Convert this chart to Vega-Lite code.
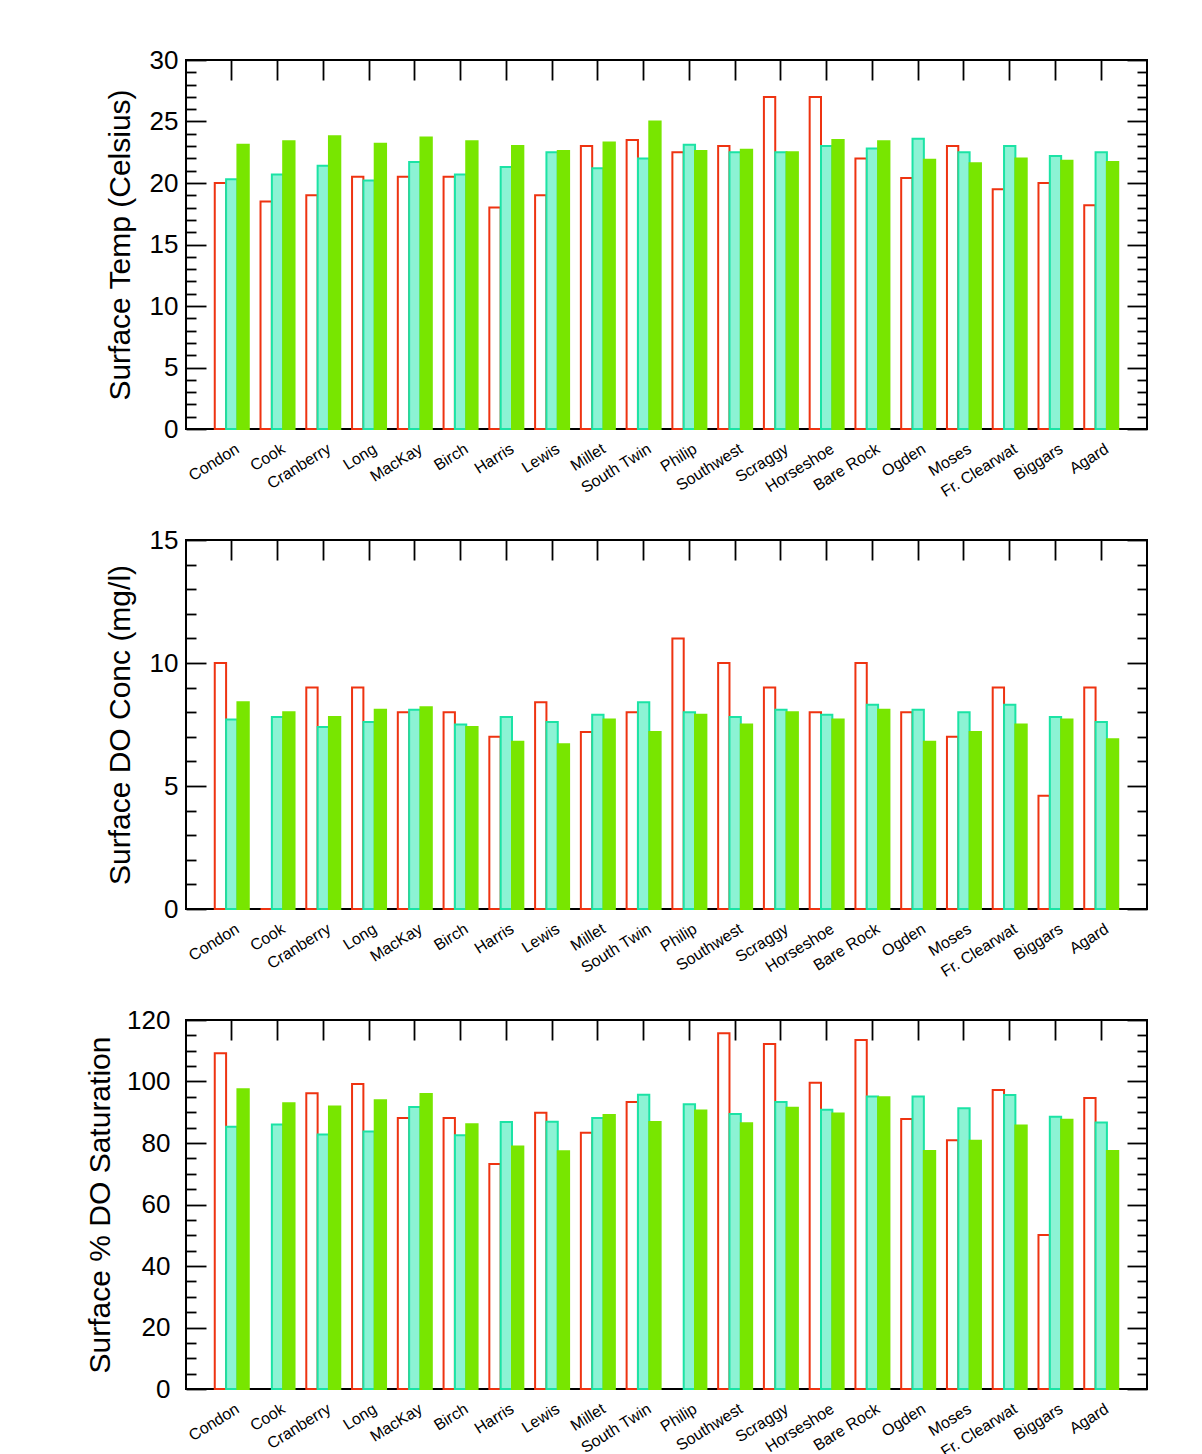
{
  "$schema": "https://vega.github.io/schema/vega-lite/v6.json",
  "autosize": {"type": "pad"},
  "padding": {"left": 84, "top": 46, "right": 0, "bottom": 0},
  "background": "white",
  "bounds": "flush",
  "spacing": 111,
  "datasets": {
    "lakes": [
      {"lake": "Condon", "series": "s1", "temp": 20.0, "do": 10.0, "sat": 109.2},
      {"lake": "Condon", "series": "s2", "temp": 20.3, "do": 7.7, "sat": 85.3},
      {"lake": "Condon", "series": "s3", "temp": 23.1, "do": 8.4, "sat": 97.5},
      {"lake": "Cook", "series": "s1", "temp": 18.5, "do": 0, "sat": null},
      {"lake": "Cook", "series": "s2", "temp": 20.7, "do": 7.8, "sat": 86.0},
      {"lake": "Cook", "series": "s3", "temp": 23.4, "do": 8.0, "sat": 92.9},
      {"lake": "Cranberry", "series": "s1", "temp": 19.0, "do": 9.0, "sat": 96.2},
      {"lake": "Cranberry", "series": "s2", "temp": 21.4, "do": 7.4, "sat": 82.8},
      {"lake": "Cranberry", "series": "s3", "temp": 23.8, "do": 7.8, "sat": 91.9},
      {"lake": "Long", "series": "s1", "temp": 20.5, "do": 9.0, "sat": 99.2},
      {"lake": "Long", "series": "s2", "temp": 20.2, "do": 7.6, "sat": 83.7},
      {"lake": "Long", "series": "s3", "temp": 23.2, "do": 8.1, "sat": 93.9},
      {"lake": "MacKay", "series": "s1", "temp": 20.5, "do": 8.0, "sat": 88.1},
      {"lake": "MacKay", "series": "s2", "temp": 21.7, "do": 8.1, "sat": 91.7},
      {"lake": "MacKay", "series": "s3", "temp": 23.7, "do": 8.2, "sat": 95.9},
      {"lake": "Birch", "series": "s1", "temp": 20.5, "do": 8.0, "sat": 88.1},
      {"lake": "Birch", "series": "s2", "temp": 20.7, "do": 7.5, "sat": 82.5},
      {"lake": "Birch", "series": "s3", "temp": 23.4, "do": 7.4, "sat": 86.1},
      {"lake": "Harris", "series": "s1", "temp": 18.0, "do": 7.0, "sat": 73.2},
      {"lake": "Harris", "series": "s2", "temp": 21.3, "do": 7.8, "sat": 86.8},
      {"lake": "Harris", "series": "s3", "temp": 23.0, "do": 6.8, "sat": 78.9},
      {"lake": "Lewis", "series": "s1", "temp": 19.0, "do": 8.4, "sat": 89.8},
      {"lake": "Lewis", "series": "s2", "temp": 22.5, "do": 7.6, "sat": 86.9},
      {"lake": "Lewis", "series": "s3", "temp": 22.6, "do": 6.7, "sat": 77.3},
      {"lake": "Millet", "series": "s1", "temp": 23.0, "do": 7.2, "sat": 83.3},
      {"lake": "Millet", "series": "s2", "temp": 21.2, "do": 7.9, "sat": 88.1},
      {"lake": "Millet", "series": "s3", "temp": 23.3, "do": 7.7, "sat": 89.1},
      {"lake": "South Twin", "series": "s1", "temp": 23.5, "do": 8.0, "sat": 93.3},
      {"lake": "South Twin", "series": "s2", "temp": 22.0, "do": 8.4, "sat": 95.7},
      {"lake": "South Twin", "series": "s3", "temp": 25.0, "do": 7.2, "sat": 86.8},
      {"lake": "Philip", "series": "s1", "temp": 22.5, "do": 11.0, "sat": null},
      {"lake": "Philip", "series": "s2", "temp": 23.1, "do": 8.0, "sat": 92.6},
      {"lake": "Philip", "series": "s3", "temp": 22.6, "do": 7.9, "sat": 90.6},
      {"lake": "Southwest", "series": "s1", "temp": 23.0, "do": 10.0, "sat": 115.7},
      {"lake": "Southwest", "series": "s2", "temp": 22.5, "do": 7.8, "sat": 89.4},
      {"lake": "Southwest", "series": "s3", "temp": 22.7, "do": 7.5, "sat": 86.4},
      {"lake": "Scraggy", "series": "s1", "temp": 27.0, "do": 9.0, "sat": 112.2},
      {"lake": "Scraggy", "series": "s2", "temp": 22.5, "do": 8.1, "sat": 93.3},
      {"lake": "Scraggy", "series": "s3", "temp": 22.5, "do": 8.0, "sat": 91.5},
      {"lake": "Horseshoe", "series": "s1", "temp": 27.0, "do": 8.0, "sat": 99.6},
      {"lake": "Horseshoe", "series": "s2", "temp": 23.0, "do": 7.9, "sat": 90.8},
      {"lake": "Horseshoe", "series": "s3", "temp": 23.5, "do": 7.7, "sat": 89.6},
      {"lake": "Bare Rock", "series": "s1", "temp": 22.0, "do": 10.0, "sat": 113.5},
      {"lake": "Bare Rock", "series": "s2", "temp": 22.8, "do": 8.3, "sat": 95.1},
      {"lake": "Bare Rock", "series": "s3", "temp": 23.4, "do": 8.1, "sat": 94.9},
      {"lake": "Ogden", "series": "s1", "temp": 20.4, "do": 8.0, "sat": 87.8},
      {"lake": "Ogden", "series": "s2", "temp": 23.6, "do": 8.1, "sat": 95.1},
      {"lake": "Ogden", "series": "s3", "temp": 21.9, "do": 6.8, "sat": 77.4},
      {"lake": "Moses", "series": "s1", "temp": 23.0, "do": 7.0, "sat": 80.9},
      {"lake": "Moses", "series": "s2", "temp": 22.5, "do": 8.0, "sat": 91.3},
      {"lake": "Moses", "series": "s3", "temp": 21.6, "do": 7.2, "sat": 80.7},
      {"lake": "Fr. Clearwat", "series": "s1", "temp": 19.5, "do": 9.0, "sat": 97.2},
      {"lake": "Fr. Clearwat", "series": "s2", "temp": 23.0, "do": 8.3, "sat": 95.6},
      {"lake": "Fr. Clearwat", "series": "s3", "temp": 22.0, "do": 7.5, "sat": 85.7},
      {"lake": "Biggars", "series": "s1", "temp": 20.0, "do": 4.6, "sat": 50.1},
      {"lake": "Biggars", "series": "s2", "temp": 22.2, "do": 7.8, "sat": 88.5},
      {"lake": "Biggars", "series": "s3", "temp": 21.8, "do": 7.7, "sat": 87.6},
      {"lake": "Agard", "series": "s1", "temp": 18.2, "do": 9.0, "sat": 94.6},
      {"lake": "Agard", "series": "s2", "temp": 22.5, "do": 7.6, "sat": 86.7},
      {"lake": "Agard", "series": "s3", "temp": 21.7, "do": 6.9, "sat": 77.4}
    ]
  },
  "data": {"name": "lakes"},
  "vconcat": [
    {
      "width": 961,
      "height": 369,
      "layer": [
        {
          "mark": {"type": "bar", "strokeWidth": 2},
          "encoding": {
            "x": {"field": "lake", "type": "nominal", "sort": null,
              "scale": {"domain": ["Condon","Cook","Cranberry","Long","MacKay","Birch","Harris","Lewis","Millet","South Twin","Philip","Southwest","Scraggy","Horseshoe","Bare Rock","Ogden","Moses","Fr. Clearwat","Biggars","Agard"], "paddingInner": 0.257, "paddingOuter": 0.6285},
              "axis": {"orient": "bottom", "title": null, "ticks": false, "labelAngle": -32, "labelAlign": "right", "labelBaseline": "middle", "labelPadding": 18, "labelOffset": 6, "labelFontSize": 16}},
            "xOffset": {"field": "series", "type": "nominal", "scale": {"domain": ["s1","s2","s3"], "paddingInner": 0, "paddingOuter": 0}},
            "y": {"field": "temp", "type": "quantitative",
              "scale": {"domain": [0, 30], "nice": false},
              "axis": {"orient": "left", "title": "Surface Temp (Celsius)", "titlePadding": 14,
                "values": [0,1,2,3,4,5,6,7,8,9,10,11,12,13,14,15,16,17,18,19,20,21,22,23,24,25,26,27,28,29,30],
                "tickSize": {"condition": {"test": "datum.value % 5 === 0", "value": -20}, "value": -10},
                "labelExpr": "datum.value % 5 === 0 ? datum.label : ''", "labelPadding": 28}},
            "fill": {"field": "series", "type": "nominal", "scale": {"domain": ["s1","s2","s3"], "range": ["white","#8cf3d4","#78e600"]}, "legend": null},
            "stroke": {"field": "series", "type": "nominal", "scale": {"domain": ["s1","s2","s3"], "range": ["#ee3311","#1be3a5","#78e600"]}, "legend": null}
          }
        },
        {
          "mark": {"type": "bar", "opacity": 0},
          "encoding": {
            "x": {"field": "lake", "type": "nominal", "sort": null,
              "axis": {"orient": "top", "title": null, "labels": false, "tickSize": -20}},
            "xOffset": {"field": "series", "type": "nominal"},
            "y": {"field": "temp", "type": "quantitative",
              "axis": {"orient": "right", "title": null, "labels": false,
                "values": [0,1,2,3,4,5,6,7,8,9,10,11,12,13,14,15,16,17,18,19,20,21,22,23,24,25,26,27,28,29,30],
                "tickSize": {"condition": {"test": "datum.value % 5 === 0", "value": -20}, "value": -10}}}
          }
        }
      ],
      "resolve": {"axis": {"x": "independent", "y": "independent"}}
    },
    {
      "width": 961,
      "height": 369,
      "layer": [
        {
          "mark": {"type": "bar", "strokeWidth": 2},
          "encoding": {
            "x": {"field": "lake", "type": "nominal", "sort": null,
              "scale": {"domain": ["Condon","Cook","Cranberry","Long","MacKay","Birch","Harris","Lewis","Millet","South Twin","Philip","Southwest","Scraggy","Horseshoe","Bare Rock","Ogden","Moses","Fr. Clearwat","Biggars","Agard"], "paddingInner": 0.257, "paddingOuter": 0.6285},
              "axis": {"orient": "bottom", "title": null, "ticks": false, "labelAngle": -32, "labelAlign": "right", "labelBaseline": "middle", "labelPadding": 18, "labelOffset": 6, "labelFontSize": 16}},
            "xOffset": {"field": "series", "type": "nominal", "scale": {"domain": ["s1","s2","s3"], "paddingInner": 0, "paddingOuter": 0}},
            "y": {"field": "do", "type": "quantitative",
              "scale": {"domain": [0, 15], "nice": false},
              "axis": {"orient": "left", "title": "Surface DO Conc (mg/l)", "titlePadding": 14,
                "values": [0,1,2,3,4,5,6,7,8,9,10,11,12,13,14,15],
                "tickSize": {"condition": {"test": "datum.value % 5 === 0", "value": -20}, "value": -10},
                "labelExpr": "datum.value % 5 === 0 ? datum.label : ''", "labelPadding": 28}},
            "fill": {"field": "series", "type": "nominal", "scale": {"domain": ["s1","s2","s3"], "range": ["white","#8cf3d4","#78e600"]}, "legend": null},
            "stroke": {"field": "series", "type": "nominal", "scale": {"domain": ["s1","s2","s3"], "range": ["#ee3311","#1be3a5","#78e600"]}, "legend": null}
          }
        },
        {
          "mark": {"type": "bar", "opacity": 0},
          "encoding": {
            "x": {"field": "lake", "type": "nominal", "sort": null,
              "axis": {"orient": "top", "title": null, "labels": false, "tickSize": -20}},
            "xOffset": {"field": "series", "type": "nominal"},
            "y": {"field": "do", "type": "quantitative",
              "axis": {"orient": "right", "title": null, "labels": false,
                "values": [0,1,2,3,4,5,6,7,8,9,10,11,12,13,14,15],
                "tickSize": {"condition": {"test": "datum.value % 5 === 0", "value": -20}, "value": -10}}}
          }
        }
      ],
      "resolve": {"axis": {"x": "independent", "y": "independent"}}
    },
    {
      "width": 961,
      "height": 369,
      "layer": [
        {
          "mark": {"type": "bar", "strokeWidth": 2},
          "encoding": {
            "x": {"field": "lake", "type": "nominal", "sort": null,
              "scale": {"domain": ["Condon","Cook","Cranberry","Long","MacKay","Birch","Harris","Lewis","Millet","South Twin","Philip","Southwest","Scraggy","Horseshoe","Bare Rock","Ogden","Moses","Fr. Clearwat","Biggars","Agard"], "paddingInner": 0.257, "paddingOuter": 0.6285},
              "axis": {"orient": "bottom", "title": null, "ticks": false, "labelAngle": -32, "labelAlign": "right", "labelBaseline": "middle", "labelPadding": 18, "labelOffset": 6, "labelFontSize": 16}},
            "xOffset": {"field": "series", "type": "nominal", "scale": {"domain": ["s1","s2","s3"], "paddingInner": 0, "paddingOuter": 0}},
            "y": {"field": "sat", "type": "quantitative",
              "scale": {"domain": [0, 120], "nice": false},
              "axis": {"orient": "left", "title": "Surface % DO Saturation", "titlePadding": 11,
                "values": [0,5,10,15,20,25,30,35,40,45,50,55,60,65,70,75,80,85,90,95,100,105,110,115,120],
                "tickSize": {"condition": {"test": "datum.value % 20 === 0", "value": -20}, "value": -10},
                "labelExpr": "datum.value % 20 === 0 ? datum.label : ''", "labelPadding": 36}},
            "fill": {"field": "series", "type": "nominal", "scale": {"domain": ["s1","s2","s3"], "range": ["white","#8cf3d4","#78e600"]}, "legend": null},
            "stroke": {"field": "series", "type": "nominal", "scale": {"domain": ["s1","s2","s3"], "range": ["#ee3311","#1be3a5","#78e600"]}, "legend": null}
          }
        },
        {
          "mark": {"type": "bar", "opacity": 0},
          "encoding": {
            "x": {"field": "lake", "type": "nominal", "sort": null,
              "axis": {"orient": "top", "title": null, "labels": false, "tickSize": -20}},
            "xOffset": {"field": "series", "type": "nominal"},
            "y": {"field": "sat", "type": "quantitative",
              "axis": {"orient": "right", "title": null, "labels": false,
                "values": [0,5,10,15,20,25,30,35,40,45,50,55,60,65,70,75,80,85,90,95,100,105,110,115,120],
                "tickSize": {"condition": {"test": "datum.value % 20 === 0", "value": -20}, "value": -10}}}
          }
        }
      ],
      "resolve": {"axis": {"x": "independent", "y": "independent"}}
    }
  ],
  "config": {
    "view": {"stroke": "black", "strokeWidth": 2},
    "axis": {
      "domain": false, "grid": false,
      "labelFont": "Liberation Sans", "titleFont": "Liberation Sans",
      "labelColor": "black", "titleColor": "black", "tickColor": "black",
      "tickWidth": 1.8, "titleFontWeight": "normal",
      "labelFontSize": 26, "titleFontSize": 30, "labelOverlap": false
    }
  }
}
